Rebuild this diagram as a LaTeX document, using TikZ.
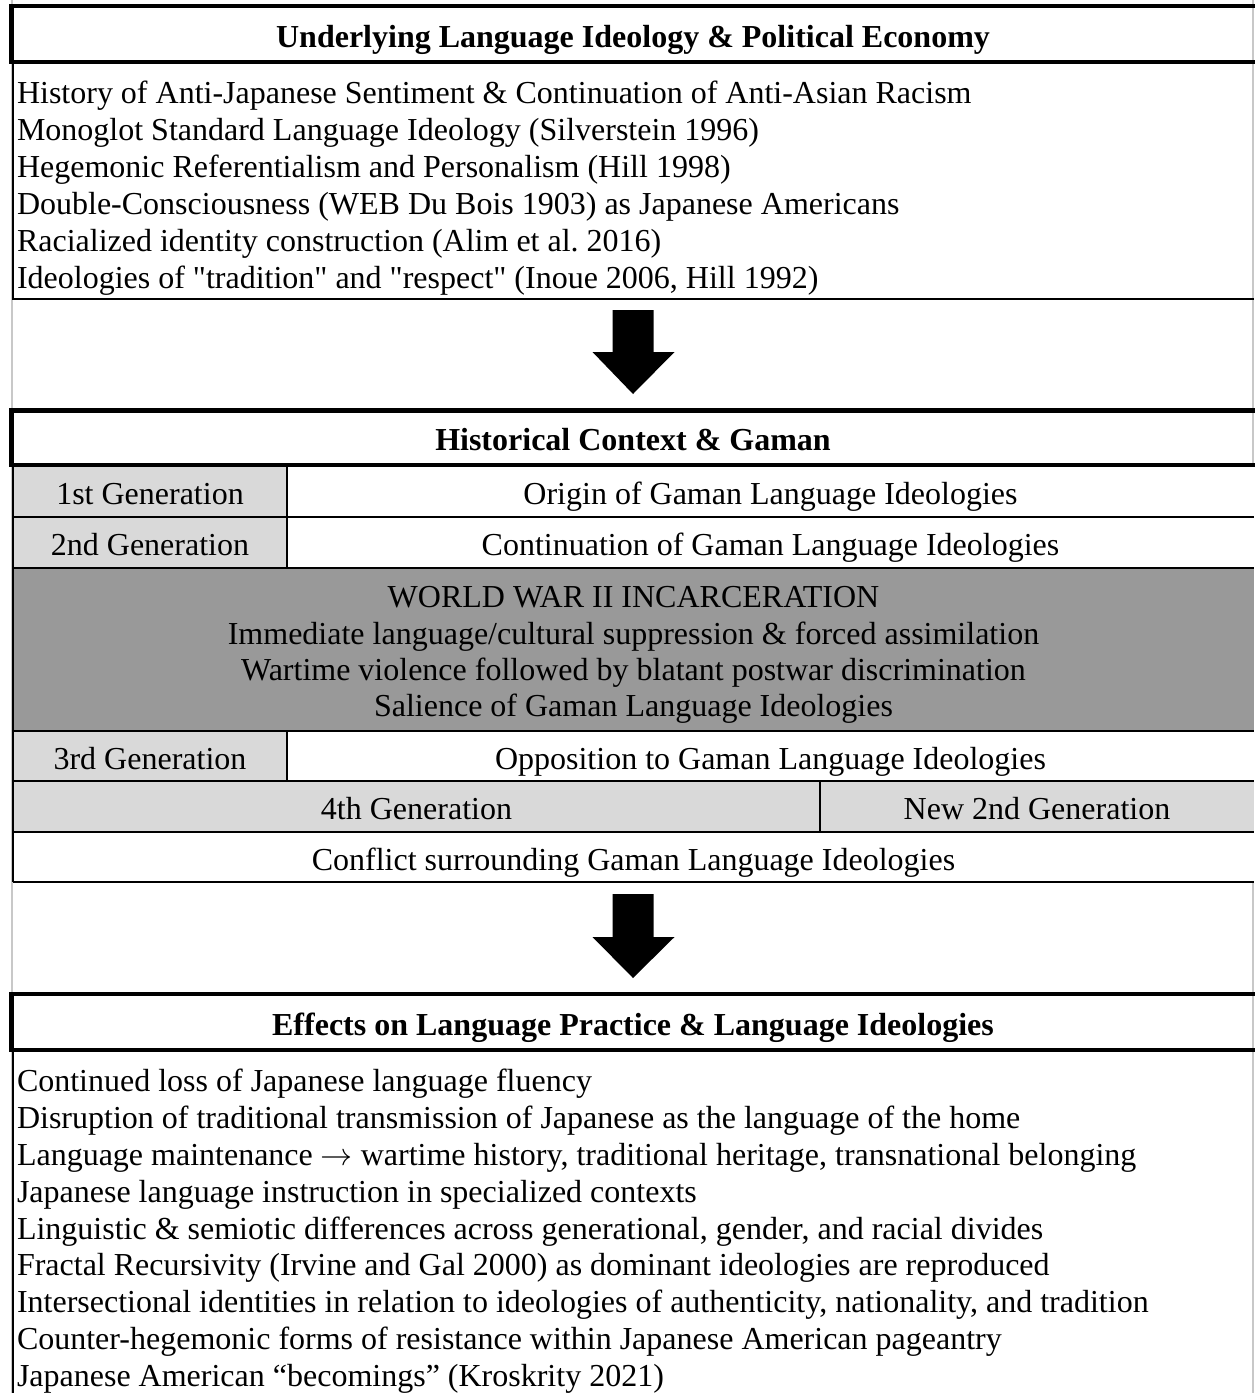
\documentclass[tikz,border=0pt]{standalone}
\usepackage{fontspec}
\usepackage{unicode-math}
\setmainfont{Liberation Serif}[Ligatures=TeXOff]
\usetikzlibrary{calc}
\definecolor{lightcell}{HTML}{D9D9D9}
\definecolor{darkcell}{HTML}{999999}
\definecolor{edgegrey}{HTML}{C8C8C8}
\frenchspacing
\begin{document}
\begin{tikzpicture}[x=1pt,y=-1pt,
  every node/.style={font=\fontsize{32}{37}\selectfont, inner sep=0pt, outer sep=0pt},
  thickrule/.style={line width=4.5pt, line join=miter},
  thinrule/.style={line width=2pt},
  hdrbox/.style={anchor=north west, minimum width=1243pt, font=\fontsize{32}{37}\selectfont\bfseries, text height=27pt, text depth=1pt},
  cellbox/.style={anchor=north west, text height=27pt, text depth=1pt},
  bodyline/.style={anchor=base west},
  centerline/.style={anchor=base},
  blockarrow/.style={fill=black}]
\useasboundingbox (0,0) rectangle (1254,1393);
\fill[white] (0,0) rectangle (1254,1393);
\draw[edgegrey, line width=1.5pt] (12,0) -- (12,1393);
\draw[edgegrey, line width=1.5pt] (1253,0) -- (1253,1393);

% ---------- Box 1 ----------
\node[hdrbox, minimum height=56pt] (h1) at (11.5,6) {Underlying Language Ideology \& Political Economy};
\node[anchor=north west, minimum width=1241pt, minimum height=237pt] (b1) at (13,62) {};
\draw[thinrule] (b1.north west) -- (b1.south west) -- (b1.south east);
\draw[thickrule] (h1.north east) -- (h1.north west) -- (h1.south west) -- (h1.south east);
\node[bodyline] (u1) at (17,103) {History of Anti-Japanese Sentiment \& Continuation of Anti-Asian Racism};
\node[bodyline] (u2) at (17,140) {Monoglot Standard Language Ideology (Silverstein 1996)};
\node[bodyline] (u3) at (17,177) {Hegemonic Referentialism and Personalism (Hill 1998)};
\node[bodyline] (u4) at (17,214) {Double-Consciousness (WEB Du Bois 1903) as Japanese Americans};
\node[bodyline] (u5) at (17,251) {Racialized identity construction (Alim et al. 2016)};
\node[bodyline] (u6) at (17,288) {Ideologies of "tradition" and "respect" (Inoue 2006, Hill 1992)};

% ---------- Box 2 ----------
\node[hdrbox, minimum height=54.5pt] (h2) at (11.5,410.5) {Historical Context \& Gaman};

\node[cellbox, fill=lightcell, minimum width=274pt, minimum height=52pt] (r1a) at (13,465) {1st Generation};
\node[cellbox, fill=white, minimum width=967pt, minimum height=52pt] (r1b) at (287,465) {Origin of Gaman Language Ideologies};
\node[cellbox, fill=lightcell, minimum width=274pt, minimum height=51pt] (r2a) at (13,517) {2nd Generation};
\node[cellbox, fill=white, minimum width=967pt, minimum height=51pt] (r2b) at (287,517) {Continuation of Gaman Language Ideologies};
\node[anchor=north west, fill=darkcell, minimum width=1241pt, minimum height=163pt] (ww) at (13,568) {};
\node[centerline] (ww1) at (633.5,607.5) {WORLD WAR II INCARCERATION};
\node[centerline] (ww2) at (633.5,644.5) {Immediate language/cultural suppression \& forced assimilation};
\node[centerline] (ww3) at (633.5,680.5) {Wartime violence followed by blatant postwar discrimination};
\node[centerline] (ww4) at (633.5,716.5) {Salience of Gaman Language Ideologies};
\node[cellbox, fill=lightcell, minimum width=274pt, minimum height=50pt] (r3a) at (13,731) {3rd Generation};
\node[cellbox, fill=white, minimum width=967pt, minimum height=50pt] (r3b) at (287,731) {Opposition to Gaman Language Ideologies};
\node[cellbox, fill=lightcell, minimum width=807pt, minimum height=51pt] (r4a) at (13,781) {4th Generation};
\node[cellbox, fill=lightcell, minimum width=434pt, minimum height=51pt] (r4b) at (820,781) {New 2nd Generation};
\node[cellbox, fill=white, minimum width=1241pt, minimum height=50pt] (r5) at (13,832) {Conflict surrounding Gaman Language Ideologies};

% table rules
\draw[thinrule] (r1a.north west) -- (r5.south west);
\draw[thinrule] (r1a.south west) -- (r1b.south east);
\draw[thinrule] (r2a.south west) -- (r2b.south east);
\draw[thinrule] (r3a.north west) -- (r3b.north east);
\draw[thinrule] (r3a.south west) -- (r3b.south east);
\draw[thinrule] (r4a.south west) -- (r4b.south east);
\draw[thinrule] (r5.south west) -- (r5.south east);
\draw[thinrule] (r1a.north east) -- (r2a.south east);
\draw[thinrule] (r3a.north east) -- (r3a.south east);
\draw[thinrule] (r4a.north east) -- (r4a.south east);
\draw[thickrule] (h2.north east) -- (h2.north west) -- (h2.south west) -- (h2.south east);

% ---------- Box 3 ----------
\node[hdrbox, minimum height=56pt] (h3) at (11.5,994) {Effects on Language Practice \& Language Ideologies};
\node[anchor=north west, minimum width=1241pt, minimum height=343pt] (b3) at (13,1050) {};
\draw[thinrule] (b3.north west) -- (b3.south west);
\draw[thickrule] (h3.north east) -- (h3.north west) -- (h3.south west) -- (h3.south east);
\node[bodyline] (e1) at (17,1091) {Continued loss of Japanese language fluency};
\node[bodyline] (e2) at (17,1128) {Disruption of traditional transmission of Japanese as the language of the home};
\node[bodyline] (e3) at (17,1165) {Language maintenance $\rightarrow$ wartime history, traditional heritage, transnational belonging};
\node[bodyline] (e4) at (17,1202) {Japanese language instruction in specialized contexts};
\node[bodyline] (e5) at (17,1239) {Linguistic \& semiotic differences across generational, gender, and racial divides};
\node[bodyline] (e6) at (17,1275) {Fractal Recursivity (Irvine and Gal 2000) as dominant ideologies are reproduced};
\node[bodyline] (e7) at (17,1312) {Intersectional identities in relation to ideologies of authenticity, nationality, and tradition};
\node[bodyline] (e8) at (17,1349) {Counter-hegemonic forms of resistance within Japanese American pageantry};
\node[bodyline] (e9) at (17,1386) {Japanese American “becomings” (Kroskrity 2021)};

% ---------- Block arrows ----------
\fill[blockarrow] ($(b1.south)+(-21,11)$) -- ($(b1.south)+(20,11)$) -- ($(b1.south)+(20,53)$) -- ($(b1.south)+(41,53)$)
  -- ($(h2.north)+(0,-16.5)$) -- ($(b1.south)+(-41,53)$) -- ($(b1.south)+(-21,53)$) -- cycle;
\fill[blockarrow] ($(r5.south)+(-21,12)$) -- ($(r5.south)+(20,12)$) -- ($(r5.south)+(20,55)$) -- ($(r5.south)+(41,55)$)
  -- ($(h3.north)+(0,-16)$) -- ($(r5.south)+(-41,55)$) -- ($(r5.south)+(-21,55)$) -- cycle;
\end{tikzpicture}
\end{document}
